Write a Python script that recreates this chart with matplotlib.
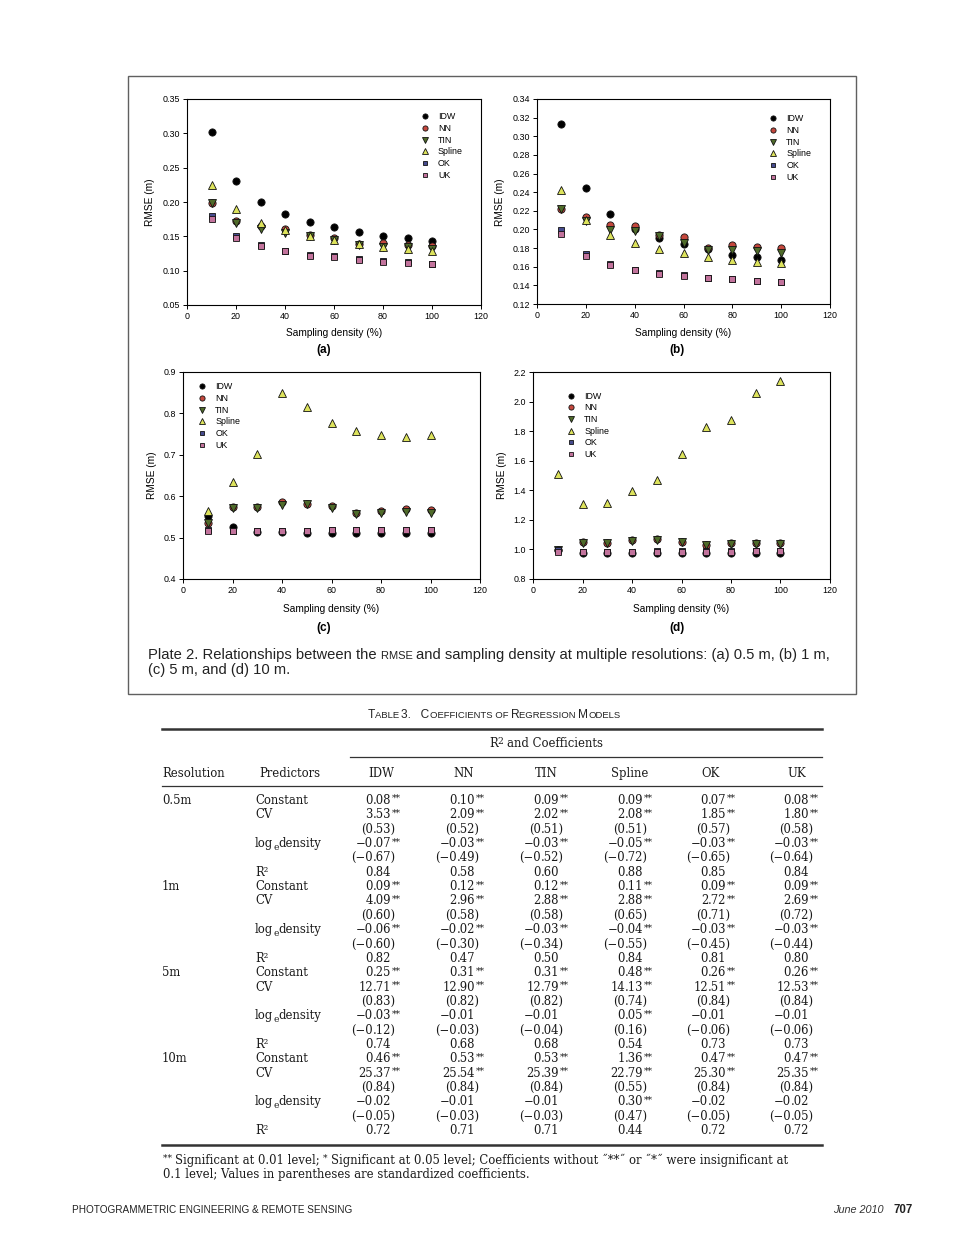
import matplotlib
matplotlib.use('Agg')
import matplotlib.pyplot as plt
from matplotlib.lines import Line2D
from matplotlib.patches import Rectangle
from matplotlib.ticker import FormatStrFormatter, MultipleLocator

# ---------------- data: RMSE vs sampling density ----------------
density = [10, 20, 30, 40, 50, 60, 70, 80, 90, 100]
methods = ['IDW', 'NN', 'TIN', 'Spline', 'OK', 'UK']

# (a) 0.5 m
a_IDW = [0.302, 0.231, 0.200, 0.183, 0.171, 0.163, 0.156, 0.151, 0.147, 0.143]
a_NN = [0.199, 0.173, 0.165, 0.160, 0.152, 0.147, 0.139, 0.140, 0.137, 0.136]
a_TIN = [0.199, 0.170, 0.161, 0.155, 0.151, 0.144, 0.137, 0.135, 0.134, 0.132]
a_Spline = [0.225, 0.190, 0.170, 0.159, 0.151, 0.145, 0.139, 0.135, 0.131, 0.128]
a_OK = [0.180, 0.151, 0.137, 0.129, 0.123, 0.121, 0.117, 0.114, 0.112, 0.110]
a_UK = [0.175, 0.147, 0.136, 0.128, 0.122, 0.120, 0.116, 0.113, 0.111, 0.109]

# (b) 1 m
b_IDW = [0.313, 0.245, 0.217, 0.200, 0.191, 0.184, 0.179, 0.173, 0.170, 0.167]
b_NN = [0.222, 0.213, 0.205, 0.204, 0.194, 0.192, 0.180, 0.183, 0.181, 0.180]
b_TIN = [0.222, 0.209, 0.199, 0.198, 0.193, 0.185, 0.178, 0.178, 0.177, 0.175]
b_Spline = [0.242, 0.210, 0.194, 0.185, 0.179, 0.175, 0.170, 0.167, 0.165, 0.164]
b_OK = [0.199, 0.174, 0.163, 0.157, 0.153, 0.151, 0.148, 0.147, 0.145, 0.144]
b_UK = [0.195, 0.172, 0.162, 0.156, 0.152, 0.150, 0.148, 0.147, 0.145, 0.144]

# (c) 5 m
c_IDW = [0.553, 0.525, 0.513, 0.513, 0.512, 0.511, 0.510, 0.510, 0.510, 0.510]
c_NN = [0.536, 0.575, 0.575, 0.585, 0.581, 0.577, 0.560, 0.565, 0.568, 0.566]
c_TIN = [0.536, 0.571, 0.571, 0.579, 0.581, 0.571, 0.556, 0.560, 0.562, 0.560]
c_Spline = [0.565, 0.635, 0.703, 0.849, 0.816, 0.776, 0.757, 0.749, 0.742, 0.748]
c_OK = [0.518, 0.517, 0.517, 0.517, 0.517, 0.518, 0.518, 0.518, 0.519, 0.519]
c_UK = [0.516, 0.515, 0.516, 0.517, 0.517, 0.518, 0.518, 0.519, 0.519, 0.519]

# (d) 10 m
d_IDW = [0.993, 0.975, 0.975, 0.975, 0.977, 0.977, 0.977, 0.977, 0.977, 0.977]
d_NN = [0.993, 1.047, 1.045, 1.061, 1.068, 1.052, 1.032, 1.041, 1.043, 1.041]
d_TIN = [0.993, 1.043, 1.043, 1.056, 1.063, 1.047, 1.027, 1.036, 1.038, 1.036]
d_Spline = [1.512, 1.305, 1.316, 1.398, 1.472, 1.645, 1.829, 1.874, 2.058, 2.139]
d_OK = [0.996, 0.984, 0.984, 0.984, 0.986, 0.986, 0.986, 0.986, 0.988, 0.990]
d_UK = [0.980, 0.980, 0.980, 0.980, 0.982, 0.984, 0.984, 0.984, 0.986, 0.988]

# ---------------- data: Table 3 ----------------
resolutions = ['0.5m', '1m', '5m', '10m']
predictor_rows = ['Constant', 'CV', '', 'log_e density', '', 'R\u00b2']

const_05 = ['0.08**', '0.10**', '0.09**', '0.09**', '0.07**', '0.08**']
cv_05 = ['3.53**', '2.09**', '2.02**', '2.08**', '1.85**', '1.80**']
cvstd_05 = ['(0.53)', '(0.52)', '(0.51)', '(0.51)', '(0.57)', '(0.58)']
logd_05 = ['\u22120.07**', '\u22120.03**', '\u22120.03**', '\u22120.05**', '\u22120.03**', '\u22120.03**']
logdstd_05 = ['(\u22120.67)', '(\u22120.49)', '(\u22120.52)', '(\u22120.72)', '(\u22120.65)', '(\u22120.64)']
r2_05 = ['0.84', '0.58', '0.60', '0.88', '0.85', '0.84']

const_1 = ['0.09**', '0.12**', '0.12**', '0.11**', '0.09**', '0.09**']
cv_1 = ['4.09**', '2.96**', '2.88**', '2.88**', '2.72**', '2.69**']
cvstd_1 = ['(0.60)', '(0.58)', '(0.58)', '(0.65)', '(0.71)', '(0.72)']
logd_1 = ['\u22120.06**', '\u22120.02**', '\u22120.03**', '\u22120.04**', '\u22120.03**', '\u22120.03**']
logdstd_1 = ['(\u22120.60)', '(\u22120.30)', '(\u22120.34)', '(\u22120.55)', '(\u22120.45)', '(\u22120.44)']
r2_1 = ['0.82', '0.47', '0.50', '0.84', '0.81', '0.80']

const_5 = ['0.25**', '0.31**', '0.31**', '0.48**', '0.26**', '0.26**']
cv_5 = ['12.71**', '12.90**', '12.79**', '14.13**', '12.51**', '12.53**']
cvstd_5 = ['(0.83)', '(0.82)', '(0.82)', '(0.74)', '(0.84)', '(0.84)']
logd_5 = ['\u22120.03**', '\u22120.01', '\u22120.01', '0.05**', '\u22120.01', '\u22120.01']
logdstd_5 = ['(\u22120.12)', '(\u22120.03)', '(\u22120.04)', '(0.16)', '(\u22120.06)', '(\u22120.06)']
r2_5 = ['0.74', '0.68', '0.68', '0.54', '0.73', '0.73']

const_10 = ['0.46**', '0.53**', '0.53**', '1.36**', '0.47**', '0.47**']
cv_10 = ['25.37**', '25.54**', '25.39**', '22.79**', '25.30**', '25.35**']
cvstd_10 = ['(0.84)', '(0.84)', '(0.84)', '(0.55)', '(0.84)', '(0.84)']
logd_10 = ['\u22120.02', '\u22120.01', '\u22120.01', '0.30**', '\u22120.02', '\u22120.02']
logdstd_10 = ['(\u22120.05)', '(\u22120.03)', '(\u22120.03)', '(0.47)', '(\u22120.05)', '(\u22120.05)']
r2_10 = ['0.72', '0.71', '0.71', '0.44', '0.72', '0.72']

# ---------------- figure helpers ----------------
W, H = 960, 1247
fig = plt.figure(figsize=(9.6, 12.47), dpi=100)
fig.patch.set_facecolor('white')
renderer = fig.canvas.get_renderer()


def fx(x):
    return x / W


def fy(y):
    return 1 - y / H


def text_width(s, **kw):
    t = fig.text(0, 0, s, **kw)
    w = t.get_window_extent(renderer).width
    t.remove()
    return w


def adv_width(s, **kw):
    # advance-like width (padding cancels): width(s+'nn') - width('nn')
    return text_width(s + 'nn', **kw) - text_width('nn', **kw)


def draw_runs(x, y, tokens, ha='left', **common):
    # tokens: (string, kwargs); spaces only at token ends (trailing) are honoured
    items = []
    for s, kw in tokens:
        k = dict(common)
        k.update(kw)
        kk = {a: b for a, b in k.items() if a not in ('dy', 'gap')}
        items.append((s, kk, k.get('dy', 0), adv_width(s, **kk) + k.get('gap', 0)))
    total = sum(it[3] for it in items)
    if ha == 'center':
        x -= total / 2
    elif ha == 'right':
        x -= total
    for s, kk, dy, w in items:
        if s.strip():
            fig.text(fx(x), fy(y + dy), s, ha='left', va='baseline', **kk)
        x += w
    return x


def smallcaps_tokens(text, big, small):
    toks = []
    cur, cur_small = '', None
    for ch in text:
        is_small = ch.islower()
        if cur_small is None or is_small == cur_small or ch == ' ':
            cur += ch.upper() if is_small else ch
            if cur_small is None and ch != ' ':
                cur_small = is_small
        else:
            toks.append((cur, {'size': small if cur_small else big}))
            cur, cur_small = (ch.upper() if is_small else ch), is_small
    if cur:
        toks.append((cur, {'size': small if cur_small else big}))
    return toks


SANS = 'Liberation Sans'
SERIF = 'DejaVu Serif'

# ---------------- plate frame ----------------
fig.add_artist(Rectangle((fx(128), fy(694)), (856 - 128) / W, (694 - 76) / H,
                         transform=fig.transFigure, fill=False, lw=1.0, ec='#606060'))

styles = {
    'IDW': dict(marker='o', mfc='#000000', ms=5.2),
    'NN': dict(marker='o', mfc='#c4473d', ms=5.2),
    'TIN': dict(marker='v', mfc='#4f6b2a', ms=5.2),
    'Spline': dict(marker='^', mfc='#dde35c', ms=5.5),
    'OK': dict(marker='s', mfc='#464b8e', ms=4.8),
    'UK': dict(marker='s', mfc='#c2739c', ms=4.8),
}

panels = [
    dict(box=(187, 481, 99, 305), series=[a_IDW, a_NN, a_TIN, a_Spline, a_OK, a_UK],
         ylim=(0.05, 0.35), ystep=0.05, fmt='%.2f', leg=(0.796, 0.935), tag='(a)', tagxy=(324, 350),
         xl=(334, 333), yl=(150, 202)),
    dict(box=(537, 830, 99, 304), series=[b_IDW, b_NN, b_TIN, b_Spline, b_OK, b_UK],
         ylim=(0.12, 0.34), ystep=0.02, fmt='%.2f', leg=(0.793, 0.925), tag='(b)', tagxy=(677, 350),
         xl=(683, 333), yl=(500, 202)),
    dict(box=(183, 480, 372, 579), series=[c_IDW, c_NN, c_TIN, c_Spline, c_OK, c_UK],
         ylim=(0.4, 0.9), ystep=0.1, fmt='%.1f', leg=(0.052, 0.95), tag='(c)', tagxy=(324, 628),
         xl=(331, 609), yl=(152, 475)),
    dict(box=(533, 830, 372, 579), series=[d_IDW, d_NN, d_TIN, d_Spline, d_OK, d_UK],
         ylim=(0.8, 2.2), ystep=0.2, fmt='%.1f', leg=(0.116, 0.905), tag='(d)', tagxy=(677, 628),
         xl=(681, 609), yl=(502, 475)),
]

for p in panels:
    l, r, t, b = p['box']
    ax = fig.add_axes([fx(l), fy(b), (r - l) / W, (b - t) / H])
    for name, vals in zip(methods, p['series']):
        st = styles[name]
        ax.plot(density, vals, ls='none', marker=st['marker'], ms=st['ms'], mfc=st['mfc'],
                mec='#111111', mew=0.6, label=name)
    ax.set_xlim(0, 120)
    ax.set_ylim(*p['ylim'])
    ax.xaxis.set_major_locator(MultipleLocator(20))
    ax.yaxis.set_major_locator(MultipleLocator(p['ystep']))
    ax.yaxis.set_major_formatter(FormatStrFormatter(p['fmt']))
    ax.tick_params(direction='out', length=3, width=0.7, labelsize=6.4, pad=2,
                   top=False, right=False)
    for lab in ax.get_xticklabels() + ax.get_yticklabels():
        lab.set_fontfamily(SANS)
    for sp in ax.spines.values():
        sp.set_linewidth(0.8)
    ax.legend(loc='upper left', bbox_to_anchor=p['leg'], frameon=False,
              prop={'family': SANS, 'size': 6.4}, handlelength=0.9, handletextpad=1.0,
              labelspacing=0.3, borderpad=0, borderaxespad=0, markerscale=0.72)
    fig.text(fx(p['xl'][0]), fy(p['xl'][1]), 'Sampling density (%)', ha='center', va='center',
             family=SANS, size=7.3)
    fig.text(fx(p['yl'][0]), fy(p['yl'][1]), 'RMSE (m)', ha='center', va='center', rotation=90,
             family=SANS, size=7.3)
    fig.text(fx(p['tagxy'][0]), fy(p['tagxy'][1]), p['tag'], ha='center', va='center',
             family=SANS, size=8.5, weight='bold')

# ---------------- caption ----------------
cap_kw = dict(family=SANS, color='#222222')
CS = 10.6
draw_runs(148, 659, [('Plate 2. Relationships between the ', {'size': CS}), ('RMSE ', {'size': 8.0}),
                     ('and sampling density at multiple resolutions: (a) 0.5 m, (b) 1 m,', {'size': CS})],
          **cap_kw)
draw_runs(148, 674, [('(c) 5 m, and (d) 10 m.', {'size': CS})], **cap_kw)

# ---------------- table ----------------
draw_runs(494, 718, smallcaps_tokens('Table 3.   Coefficients of Regression Models', 8.6, 6.8),
          ha='center', family=SANS, color='#222222')

fig.add_artist(Line2D([fx(162), fx(822)], [fy(729), fy(729)], lw=1.8, color='#333333'))
fig.add_artist(Line2D([fx(350), fx(822)], [fy(757), fy(757)], lw=0.9, color='#333333'))
fig.add_artist(Line2D([fx(162), fx(822)], [fy(786), fy(786)], lw=0.9, color='#333333'))
fig.add_artist(Line2D([fx(162), fx(822)], [fy(1145), fy(1145)], lw=1.8, color='#333333'))

TS = 8.4
SUP = 6.6
tcol = '#1a1a1a'
tkw = dict(family=SERIF, size=TS, color=tcol, va='baseline')
draw_runs(546, 747, [('R', {}), ('2 ', {'size': SUP, 'dy': -3.5}), ('and Coefficients', {})],
          ha='center', family=SERIF, size=TS, color=tcol)
fig.text(fx(162), fy(777), 'Resolution', ha='left', **tkw)
fig.text(fx(259), fy(777), 'Predictors', ha='left', **tkw)
head_x = [381, 464, 546, 630, 710, 797]
for m, hx in zip(methods, head_x):
    fig.text(fx(hx), fy(777), m, ha='center', **tkw)

dec_x = [373, 457, 541, 625, 708, 791]
groups = [
    [const_05, cv_05, cvstd_05, logd_05, logdstd_05, r2_05],
    [const_1, cv_1, cvstd_1, logd_1, logdstd_1, r2_1],
    [const_5, cv_5, cvstd_5, logd_5, logdstd_5, r2_5],
    [const_10, cv_10, cvstd_10, logd_10, logdstd_10, r2_10],
]
star_w = {}
row_h = 14.35
y0 = 804
for gi, (res, rows) in enumerate(zip(resolutions, groups)):
    for ri, (pred, vals) in enumerate(zip(predictor_rows, rows)):
        y = y0 + (gi * 6 + ri) * row_h
        if ri == 0:
            fig.text(fx(162), fy(y), res, ha='left', **tkw)
        if pred.startswith('log_e'):
            draw_runs(255, y, [('log', {}), ('e', {'size': SUP, 'dy': 2.5}),
                               ('density', {})], family=SERIF, size=TS, color=tcol)
        elif pred:
            fig.text(fx(255), fy(y), pred, ha='left', **tkw)
        for v, dx in zip(vals, dec_x):
            stars = v.endswith('**')
            core = v[:-2] if stars else v
            i = core.index('.')
            left, right = core[:i], core[i:]
            fig.text(fx(dx), fy(y), left, ha='right', **tkw)
            fig.text(fx(dx), fy(y), right, ha='left', **tkw)
            if stars:
                if right not in star_w:
                    star_w[right] = adv_width(right, family=SERIF, size=TS)
                fig.text(fx(dx + star_w[right] + 0.3), fy(y - 2.8), '**', ha='left', va='baseline',
                         family=SERIF, size=SUP, color=tcol)

FS = 8.4
fkw = dict(family=SERIF, size=FS, color=tcol)
draw_runs(163, 1164, [('** ', {'size': SUP, 'dy': -2.8}),
                      ('Significant at 0.01 level; ', {}),
                      ('* ', {'size': SUP, 'dy': -2.8}),
                      ('Significant at 0.05 level; Coefficients without \u02dd**\u02dd or \u02dd*\u02dd'
                       ' were insignificant at', {})], **fkw)
draw_runs(163, 1178, [('0.1 level; Values in parentheses are standardized coefficients.', {})], **fkw)

# ---------------- footer ----------------
fig.text(fx(72), fy(1213), 'PHOTOGRAMMETRIC ENGINEERING & REMOTE SENSING', ha='left', va='baseline',
         family=SANS, size=7.2, color='#222222')
fig.text(fx(884), fy(1213), 'June 2010', ha='right', va='baseline', family=SANS, size=7.8,
         style='italic', color='#333333')
fig.text(fx(893), fy(1213), '707', ha='left', va='baseline', family=SANS, size=8.3,
         weight='bold', color='#222222')

fig.savefig('out.png', dpi=100, facecolor='white')
